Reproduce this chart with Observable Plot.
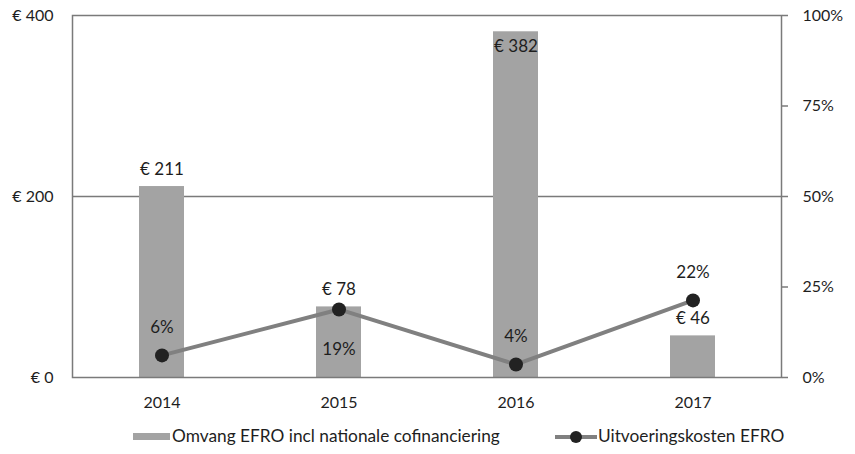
<!DOCTYPE html>
<html>
<head>
<meta charset="utf-8">
<script src="https://cdn.jsdelivr.net/npm/d3@7"></script>
<script src="https://cdn.jsdelivr.net/npm/@observablehq/plot@0.6"></script>
<style>
  html, body { margin: 0; padding: 0; background: #fff; }
  body { width: 855px; height: 454px; position: relative; overflow: hidden; font-family: Lato, "Open Sans", sans-serif; color: #1e1e1e; }
  #chart { position: absolute; left: 0; top: 0; }
  .legend { position: absolute; top: 426px; left: 0; width: 855px; height: 20px; font-size: 17.3px; }
  .legend .item { position: absolute; top: 0; height: 20px; line-height: 20px; white-space: nowrap; }
</style>
</head>
<body>
<div id="chart"></div>
<div class="legend" id="legend"></div>
<script>
const years = ["2014", "2015", "2016", "2017"];
const amounts = [211, 78, 382, 46];            // € (million)
const costPct = [6.1, 18.8, 3.6, 21.3];        // % uitvoeringskosten
const costLabels = ["6%", "19%", "4%", "22%"];
const leftTicks = [0, 200, 400];
const rightTicks = [0, 25, 50, 75, 100];
const seriesNames = ["Omvang EFRO incl nationale cofinanciering", "Uitvoeringskosten EFRO"];

const yMax = d3.max(leftTicks);
const pctMax = d3.max(rightTicks);
const k = yMax / pctMax;

const data = years.map((year, i) => ({
  year, amount: amounts[i], pct: costPct[i], pctLabel: costLabels[i]
}));

const barColor = "#a3a3a3";
const lineColor = "#808080";
const dotColor = "#222222";
const axisColor = "#7a7a7a";
const textColor = "#1e1e1e";
const font = "Lato, 'Open Sans', sans-serif";

const barAbove = data.filter(d => d.amount < yMax * 0.875);
const barInside = data.filter(d => d.amount >= yMax * 0.875);
const lineBelow = data.filter(d => Math.abs(d.pct * k - d.amount) < 20);
const lineAbove = data.filter(d => Math.abs(d.pct * k - d.amount) >= 20);

const chart = Plot.plot({
  width: 855,
  height: 454,
  marginTop: 15,
  marginBottom: 77,
  marginLeft: 72,
  marginRight: 74,
  style: { fontFamily: font, fontSize: "16px", color: textColor, background: "transparent" },
  x: { domain: years, paddingInner: 0.746, paddingOuter: 0.373, label: null },
  y: { domain: [0, yMax], label: null },
  marks: [
    Plot.ruleY(leftTicks.slice(1, -1), { stroke: axisColor, strokeWidth: 1.5 }),
    Plot.barY(data, { x: "year", y: "amount", fill: barColor }),
    Plot.frame({ stroke: axisColor, strokeWidth: 1.5 }),
    Plot.axisY({ ticks: leftTicks, tickFormat: d => "€ " + d, tickSize: 0, tickPadding: 19, label: null, fontSize: 16, fill: textColor }),
    Plot.axisY({ anchor: "right", ticks: rightTicks.map(p => p * k), tickFormat: d => (d / k) + "%", tickSize: 6, tickPadding: 15, label: null, stroke: axisColor, strokeWidth: 1.5, fill: textColor, fontSize: 16 }),
    Plot.axisX({ tickSize: 0, tickPadding: 19, label: null, fontSize: 16, fill: textColor }),
    Plot.lineY(data, { x: "year", y: d => d.pct * k, stroke: lineColor, strokeWidth: 4 }),
    Plot.dot(data, { x: "year", y: d => d.pct * k, r: 7, fill: dotColor }),
    Plot.text(barAbove, { x: "year", y: "amount", text: d => "€ " + d.amount, dy: -17, fontSize: 17, fill: textColor }),
    Plot.text(barInside, { x: "year", y: "amount", text: d => "€ " + d.amount, dy: 15, fontSize: 17, fill: textColor }),
    Plot.text(lineAbove, { x: "year", y: d => d.pct * k, text: "pctLabel", dy: -28, fontSize: 17, fill: textColor }),
    Plot.text(lineBelow, { x: "year", y: d => d.pct * k, text: "pctLabel", dy: 40, fontSize: 17, fill: textColor })
  ]
});
document.getElementById("chart").appendChild(chart);

// Legend
const legend = document.getElementById("legend");
const item1 = document.createElement("div");
item1.className = "item";
item1.style.left = "133px";
item1.innerHTML = `<span style="display:inline-block;width:37px;height:7px;background:${barColor};vertical-align:middle;margin-right:2px;position:relative;top:-1px"></span>`;
item1.appendChild(document.createTextNode(seriesNames[0]));
legend.appendChild(item1);

const item2 = document.createElement("div");
item2.className = "item";
item2.style.left = "555px";
item2.innerHTML = `<svg width="42" height="14" style="vertical-align:middle;position:relative;top:-1px;margin-right:1px"><line x1="0" y1="7" x2="42" y2="7" stroke="${lineColor}" stroke-width="4"/><circle cx="21" cy="7" r="6" fill="${dotColor}"/></svg>`;
item2.appendChild(document.createTextNode(seriesNames[1]));
legend.appendChild(item2);
</script>
</body>
</html>
